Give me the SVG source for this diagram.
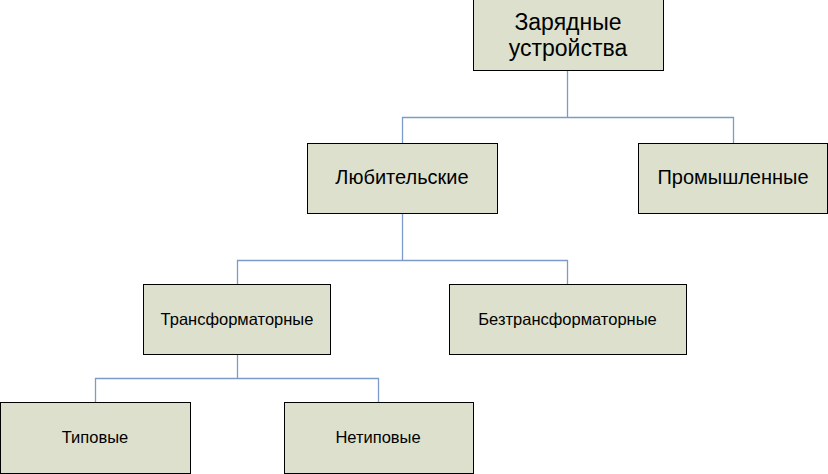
<svg xmlns="http://www.w3.org/2000/svg" width="828" height="474" viewBox="0 0 828 474">
<style>
.box{fill:#DDE0CD;stroke:#000;stroke-width:1}
.lbl{font-family:"Liberation Sans",Arial,sans-serif;fill:#000;text-anchor:middle}
.l0{font-size:23px}
.l1{font-size:20px}
.l2{font-size:16.5px}
.con{fill:none;stroke:#7C9BC8;stroke-width:1.3}
</style>
<rect width="828" height="474" fill="#fff"/>
<g id="connectors">
<path class="con" d="M567.5 71V117.5M402.5 143V117.5H733.5V143"/>
<path class="con" d="M402.5 213V260.5M237.5 284V260.5H567.5V284"/>
<path class="con" d="M237.5 355V378.5M95.5 402V378.5H378.5V402"/>
</g>
<g id="n-root">
<rect class="box" x="473.5" y="-0.5" width="190" height="71"/>
<text class="lbl l0" x="568" y="30">Зарядные</text>
<text class="lbl l0" x="568" y="56">устройства</text>
</g>
<g id="n-amateur">
<rect class="box" x="307.5" y="143.5" width="190" height="70"/>
<text class="lbl l1" x="402" y="184">Любительские</text>
</g>
<g id="n-industrial">
<rect class="box" x="638.5" y="143.5" width="189" height="70"/>
<text class="lbl l1" x="733" y="184">Промышленные</text>
</g>
<g id="n-transformer">
<rect class="box" x="143.5" y="284.5" width="187" height="70"/>
<text class="lbl l2" x="237" y="325">Трансформаторные</text>
</g>
<g id="n-transformerless">
<rect class="box" x="449.5" y="284.5" width="237" height="70"/>
<text class="lbl l2" x="567.5" y="325">Безтрансформаторные</text>
</g>
<g id="n-typical">
<rect class="box" x="0.5" y="402.5" width="190" height="71"/>
<text class="lbl l2" x="95" y="443">Типовые</text>
</g>
<g id="n-atypical">
<rect class="box" x="284.5" y="402.5" width="189" height="71"/>
<text class="lbl l2" x="378" y="443">Нетиповые</text>
</g>
</svg>
